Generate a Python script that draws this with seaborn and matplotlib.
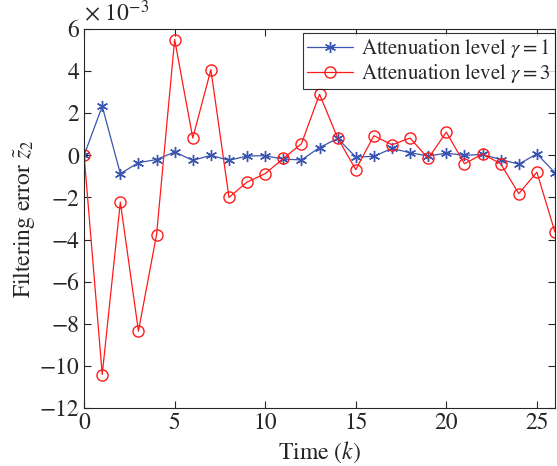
import numpy as np
import pandas as pd
import matplotlib
matplotlib.use("Agg")
import matplotlib.pyplot as plt
import seaborn as sns

# =========================
# Data (values in units of 1e-3)
# =========================
time_k = np.arange(0, 27)

err_gamma1 = [0.0, 2.33, -0.87, -0.35, -0.2, 0.16, -0.24, 0.0, -0.24, -0.03,
              -0.02, -0.18, -0.22, 0.37, 0.8, -0.08, -0.05, 0.33, 0.12, -0.03,
              0.1, 0.0, 0.04, -0.2, -0.42, 0.07, -0.83]

err_gamma3 = [0.0, -10.41, -2.22, -8.35, -3.77, 5.5, 0.82, 4.07, -2.0, -1.27,
              -0.87, -0.15, 0.55, 2.9, 0.82, -0.68, 0.93, 0.5, 0.82, -0.15,
              1.1, -0.4, 0.06, -0.4, -1.82, -0.8, -3.65]

labels = [r"Attenuation level $\gamma = 1$", r"Attenuation level $\gamma = 3$"]
colors = ["#3a55b0", "#ff1a1a"]

df = pd.DataFrame({
    "k": np.concatenate([time_k, time_k]),
    "err": np.concatenate([err_gamma1, err_gamma3]),
    "series": [labels[0]] * len(time_k) + [labels[1]] * len(time_k),
})

# =========================
# Style
# =========================
sns.set_style("ticks")
plt.rcParams["font.family"] = ["STIXGeneral", "DejaVu Serif"]
plt.rcParams["mathtext.fontset"] = "stix"

fig = plt.figure(figsize=(5.57, 4.66), dpi=100)
ax = fig.add_axes([0.151, 0.1245, 0.8454, 0.8133])

sns.lineplot(
    data=df, x="k", y="err", hue="series", style="series",
    palette=colors,
    markers=["*", "o"], dashes=False,
    markersize=8, linewidth=0.9,
    legend=False,
    ax=ax,
)

# asterisk (line-art) for gamma=1, hollow circles for gamma=3
lines = ax.get_lines()[:2]
lines[0].set_marker((6, 2, 0))
lines[0].set_markeredgecolor(colors[0])
lines[0].set_markeredgewidth(1.0)
lines[0].set_markersize(8)
lines[1].set_markerfacecolor("none")
lines[1].set_markeredgecolor(colors[1])
lines[1].set_markeredgewidth(1.0)
lines[1].set_markersize(8)

ax.set_xlim(0, 26)
ax.set_ylim(-12, 6)
ax.set_xticks([0, 5, 10, 15, 20, 25])
ax.set_yticks(np.arange(-12, 7, 2))

ax.tick_params(direction="in", top=True, right=True, labelsize=17, length=5, width=0.8)
for sp in ax.spines.values():
    sp.set_linewidth(0.8)

ax.set_xlabel(r"Time ($k$)", fontsize=17, labelpad=4)
ax.set_ylabel(r"Filtering error $\tilde{z}_2$", fontsize=17, labelpad=2)

ax.text(0.0, 1.008, r"$\times\ 10^{-3}$", transform=ax.transAxes,
        fontsize=17, ha="left", va="bottom")

leg = ax.legend(handles=lines, labels=labels, loc="upper right", fontsize=15,
                frameon=True, fancybox=False, edgecolor="black",
                bbox_to_anchor=(1.0, 0.99), borderaxespad=0.0,
                handlelength=2.2, borderpad=0.2,
                labelspacing=0.1, handletextpad=0.4)
leg.get_frame().set_linewidth(0.8)

fig.savefig("out.png", dpi=100)
